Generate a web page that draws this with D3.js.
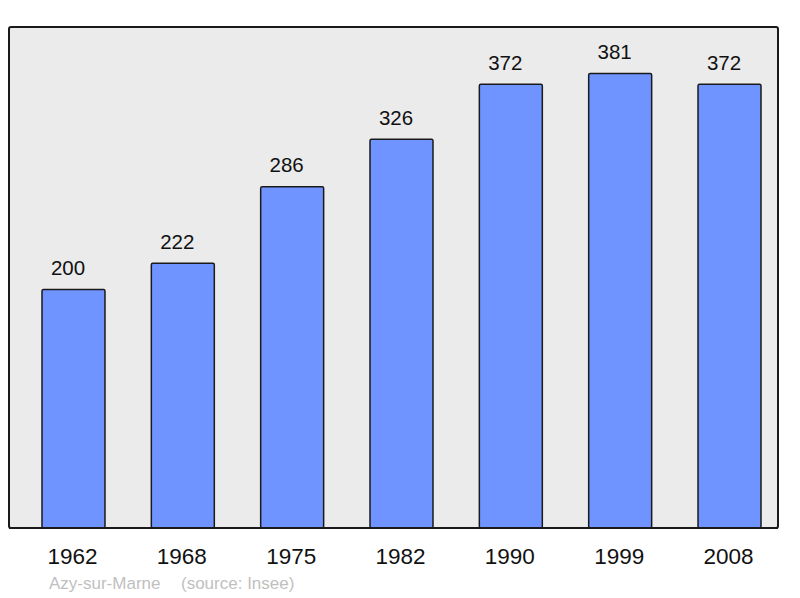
<!DOCTYPE html>
<html>
<head>
<meta charset="utf-8">
<script src="https://cdn.jsdelivr.net/npm/d3@7"></script>
<style>
  body { margin: 0; background: #fff; }
  text { font-family: "Liberation Sans", Arial, sans-serif; }
</style>
</head>
<body>
<script>
// Population data, Azy-sur-Marne
var years = ['1962', '1968', '1975', '1982', '1990', '1999', '2008'];
var population = [200, 222, 286, 326, 372, 381, 372];
var commune = 'Azy-sur-Marne';
var source = '(source: Insee)';

var width = 800,
    height = 598,
    panel = { left: 9, top: 27, right: 778, bottom: 528 };

var svg = d3.select('body')
    .append('svg')
        .attr('width', width)
        .attr('height', height);

var x = d3.scaleBand()
    .domain(years)
    .range([42, 761])
    .paddingInner(0.424)
    .paddingOuter(0);

var y = d3.scaleLinear()
    .domain([0, 420])
    .range([panel.bottom, panel.top]);

// Background panel
svg.append('rect')
    .attr('x', panel.left)
    .attr('y', panel.top)
    .attr('width', panel.right - panel.left)
    .attr('height', panel.bottom - panel.top)
    .attr('rx', 2)
    .attr('fill', '#ebebeb')
    .attr('stroke', '#1a1a1a')
    .attr('stroke-width', 2);

// Bars
svg.selectAll('rect.bar')
    .data(population)
    .enter().append('rect')
        .attr('class', 'bar')
        .attr('x', function (d, i) { return x(years[i]); })
        .attr('y', function (d) { return y(d); })
        .attr('width', x.bandwidth())
        .attr('height', function (d) { return panel.bottom - y(d); })
        .attr('rx', 1.5)
        .attr('fill', '#7094ff')
        .attr('stroke', '#1a1a1a')
        .attr('stroke-width', 1.5);

// Redraw bottom edge of panel over the bars
svg.append('line')
    .attr('x1', panel.left)
    .attr('x2', panel.right)
    .attr('y1', panel.bottom)
    .attr('y2', panel.bottom)
    .attr('stroke', '#1a1a1a')
    .attr('stroke-width', 2);

// Value labels (sit slightly left of bar centre, as in the original)
svg.selectAll('text.value')
    .data(population)
    .enter().append('text')
        .attr('class', 'value')
        .attr('x', function (d, i) { return x(years[i]) + x.bandwidth() / 2 - 5.5; })
        .attr('y', function (d) { return y(d) - 14.5; })
        .attr('text-anchor', 'middle')
        .attr('font-size', 20.5)
        .attr('fill', '#111')
        .text(function (d) { return d; });

// Year labels
svg.selectAll('text.year')
    .data(years)
    .enter().append('text')
        .attr('class', 'year')
        .attr('x', function (d) { return x(d) + x.bandwidth() / 2 - 1; })
        .attr('y', 564)
        .attr('text-anchor', 'middle')
        .attr('font-size', 22.5)
        .attr('fill', '#111')
        .text(function (d) { return d; });

// Source line
svg.append('text')
    .attr('x', 49)
    .attr('y', 589)
    .attr('font-size', 17)
    .attr('fill', '#c0c0c0')
    .text(commune);

svg.append('text')
    .attr('x', 181)
    .attr('y', 589)
    .attr('font-size', 17)
    .attr('fill', '#c0c0c0')
    .text(source);
</script>
</body>
</html>
